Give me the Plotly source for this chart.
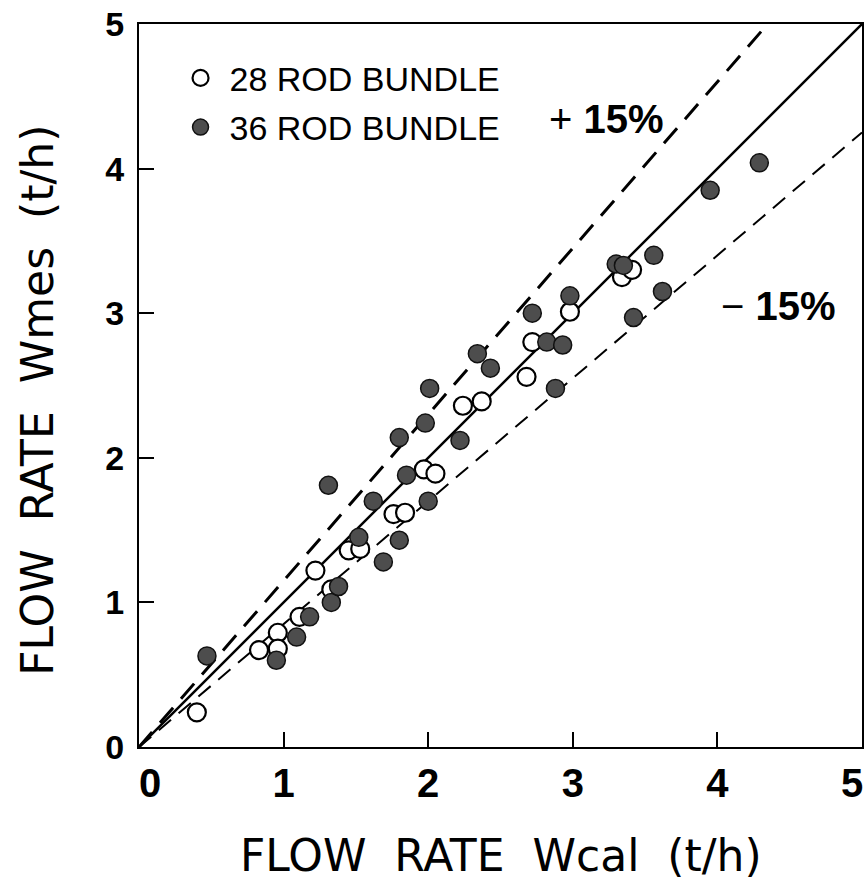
import plotly.graph_objects as go

# Calculated vs. measured flow rate (t/h)
wcal_28 = [0.40, 0.83, 0.96, 0.96, 1.11, 1.22, 1.33, 1.45, 1.53, 1.76,
           1.84, 1.97, 2.05, 2.24, 2.37, 2.68, 2.72, 2.98, 3.34, 3.41]
wmes_28 = [0.24, 0.67, 0.79, 0.68, 0.90, 1.22, 1.09, 1.36, 1.37, 1.61,
           1.62, 1.92, 1.89, 2.36, 2.39, 2.56, 2.80, 3.01, 3.25, 3.30]

wcal_36 = [0.47, 0.95, 1.09, 1.18, 1.33, 1.38, 1.52, 1.62, 1.69, 1.80,
           1.31, 1.85, 1.80, 1.98, 2.00, 2.01, 2.22, 2.34, 2.43, 2.72,
           2.82, 2.93, 2.88, 2.98, 3.30, 3.35, 3.42, 3.56, 3.62, 3.95, 4.29]
wmes_36 = [0.63, 0.60, 0.76, 0.90, 1.00, 1.11, 1.45, 1.70, 1.28, 1.43,
           1.81, 1.88, 2.14, 2.24, 1.70, 2.48, 2.12, 2.72, 2.62, 3.00,
           2.80, 2.78, 2.48, 3.12, 3.34, 3.33, 2.97, 3.40, 3.15, 3.85, 4.04]

axis_ticks = [0, 1, 2, 3, 4, 5]
axis_max = 5
# x labels: "0" nudged right with no-break spaces; the last one is drawn
# separately, right-aligned to the frame edge
x_tick_text = ["\u00a0\u00a00", "1", "2", "3", "4", ""]
band = 0.15  # +/-15 % deviation band

SANS = "Liberation Sans, Arial, sans-serif"
WIDE = "DejaVu Sans, Verdana, sans-serif"
TICK_X_FONT = dict(family=SANS, size=40, color="black", weight="bold")

fig = go.Figure()

# Reference lines: y = x, y = 1.15x, y = 0.85x
line_x = [0, axis_max]
fig.add_trace(go.Scatter(x=line_x, y=[v * (1 + band) for v in line_x], mode="lines",
                         line=dict(color="black", width=3, dash="20px,12px"),
                         showlegend=False, hoverinfo="skip"))
fig.add_trace(go.Scatter(x=line_x, y=line_x, mode="lines",
                         line=dict(color="black", width=2.5),
                         showlegend=False, hoverinfo="skip"))
fig.add_trace(go.Scatter(x=line_x, y=[v * (1 - band) for v in line_x], mode="lines",
                         line=dict(color="black", width=2, dash="16px,10px"),
                         showlegend=False, hoverinfo="skip"))

fig.add_trace(go.Scatter(x=wcal_28, y=wmes_28, mode="markers", name="28 ROD BUNDLE",
                         legendgroup="a",
                         marker=dict(symbol="circle", size=18, color="white",
                                     line=dict(color="black", width=2.2))))
fig.add_trace(go.Scatter(x=wcal_36, y=wmes_36, mode="markers", name="36 ROD BUNDLE",
                         legendgroup="b",
                         marker=dict(symbol="circle", size=18, color="#4d4d4d",
                                     line=dict(color="#111111", width=1.5))))

fig.add_annotation(x=3.23, y=4.34, xref="x", yref="y", showarrow=False,
                   text="+ <b>15%</b>",
                   font=dict(family=SANS, size=40, color="black"))
fig.add_annotation(x=4.42, y=3.05, xref="x", yref="y", showarrow=False,
                   text="\u2212 <b>15%</b>",
                   font=dict(family=SANS, size=40, color="black"))

# Last x tick label, kept inside the page
fig.add_annotation(x=axis_ticks[-1], y=-0.05, xref="x", yref="paper", showarrow=False,
                   xanchor="right", yanchor="middle", xshift=3,
                   text=str(axis_ticks[-1]), font=TICK_X_FONT)

# Axis titles
fig.add_annotation(x=0.5, y=-0.15, xref="paper", yref="paper", showarrow=False,
                   xanchor="center", yanchor="middle",
                   text="FLOW  RATE  Wcal  (t/h)",
                   font=dict(family=WIDE, size=44, color="black"))
fig.add_annotation(x=-0.14, y=0.48, xref="paper", yref="paper", showarrow=False,
                   xanchor="center", yanchor="middle", textangle=-90,
                   text="FLOW  RATE  Wmes  (t/h)",
                   font=dict(family=WIDE, size=44, color="black"))

axis_common = dict(range=[0, axis_max], tickvals=axis_ticks, ticks="inside",
                   ticklen=15, tickwidth=1.5, tickcolor="black",
                   showline=True, linecolor="black", linewidth=2, mirror=True,
                   showgrid=False, zeroline=False, automargin=False)

fig.update_xaxes(**axis_common, ticktext=x_tick_text, tickfont=TICK_X_FONT)
fig.update_yaxes(**axis_common, ticklabelstandoff=6,
                 tickfont=dict(family=SANS, size=34, color="black", weight="bold"))

fig.update_layout(
    width=867, height=890,
    margin=dict(l=139, r=5, t=24, b=143),
    paper_bgcolor="white", plot_bgcolor="white",
    legend=dict(x=0.045, y=0.965, xanchor="left", yanchor="top",
                bgcolor="rgba(0,0,0,0)", tracegroupgap=2, itemwidth=48,
                font=dict(family=SANS, size=34, color="black")),
)

fig.write_html("out.html")
